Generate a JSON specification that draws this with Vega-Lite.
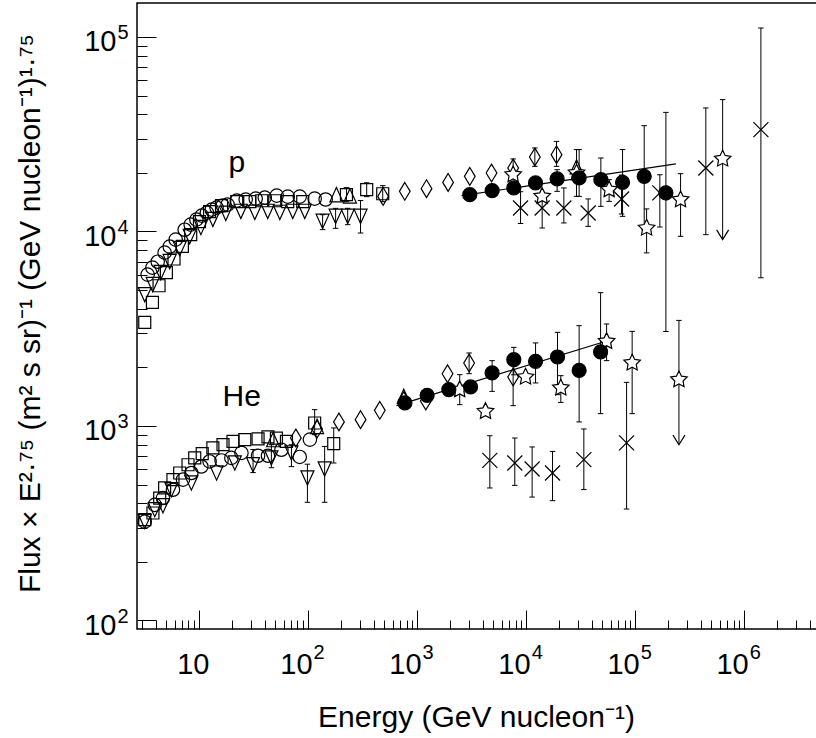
{
  "$schema": "https://vega.github.io/schema/vega-lite/v6.json",
  "width": 680,
  "height": 626,
  "autosize": {"type": "none"},
  "padding": {"left": 137, "top": 3, "right": 0, "bottom": 109},
  "background": "white",
  "config": {
    "font": "Liberation Sans",
    "view": {"stroke": "black", "strokeWidth": 1.5},
    "axis": {"grid": false, "domain": false, "tickColor": "black", "tickWidth": 1, "labelColor": "black", "titleColor": "black", "labelOverlap": false, "labelFlush": false, "labelBound": false}
  },
  "datasets": {
    "pts": [
      {"ion":"p","sym":"circle","E":3.38,"F":6000},{"ion":"p","sym":"circle","E":3.74,"F":6515},{"ion":"p","sym":"circle","E":4.18,"F":6990},{"ion":"p","sym":"circle","E":4.84,"F":7780},{"ion":"p","sym":"circle","E":5.39,"F":8355},{"ion":"p","sym":"circle","E":6.11,"F":9075},{"ion":"p","sym":"circle","E":7.39,"F":10210},{"ion":"p","sym":"circle","E":8.39,"F":10840},{"ion":"p","sym":"circle","E":9.46,"F":11500},{"ion":"p","sym":"circle","E":10.6,"F":12060},{"ion":"p","sym":"circle","E":11.8,"F":12490},{"ion":"p","sym":"circle","E":13.1,"F":12950},{"ion":"p","sym":"circle","E":14.5,"F":13260},{"ion":"p","sym":"circle","E":16.5,"F":13590},{"ion":"p","sym":"circle","E":18.3,"F":13750},{"ion":"p","sym":"circle","E":22.2,"F":14400},{"ion":"p","sym":"circle","E":26.8,"F":14580},{"ion":"p","sym":"circle","E":33.1,"F":14750},{"ion":"p","sym":"circle","E":40.1,"F":14930},{"ion":"p","sym":"circle","E":51.6,"F":15290},{"ion":"p","sym":"circle","E":65.1,"F":15110},{"ion":"p","sym":"circle","E":83.9,"F":15110},{"ion":"p","sym":"circle","E":115,"F":14750},{"ion":"p","sym":"circle","E":145,"F":14600},
      {"ion":"p","sym":"square","E":3.18,"F":3410},{"ion":"p","sym":"square","E":3.74,"F":4315},{"ion":"p","sym":"square","E":4.3,"F":5260},{"ion":"p","sym":"square","E":5.02,"F":6150},{"ion":"p","sym":"square","E":5.9,"F":7220},{"ion":"p","sym":"square","E":7.04,"F":8380},{"ion":"p","sym":"square","E":8.39,"F":9630},{"ion":"p","sym":"square","E":10.1,"F":11230},{"ion":"p","sym":"square","E":12.5,"F":12640},{"ion":"p","sym":"square","E":16.1,"F":13580},{"ion":"p","sym":"square","E":22.2,"F":14230},{"ion":"p","sym":"square","E":29.2,"F":14230},{"ion":"p","sym":"square","E":37.6,"F":14390},{"ion":"p","sym":"square","E":49.5,"F":14390},{"ion":"p","sym":"square","E":65.1,"F":14230},{"ion":"p","sym":"square","E":89.4,"F":14230},{"ion":"p","sym":"square","E":225,"F":15450,"lo":14230,"hi":16800},{"ion":"p","sym":"square","E":345,"F":16400,"lo":15100,"hi":17800},{"ion":"p","sym":"square","E":484,"F":15630,"lo":14230,"hi":17200},
      {"ion":"p","sym":"tdown","E":3.18,"F":4730},{"ion":"p","sym":"tdown","E":3.76,"F":5330},{"ion":"p","sym":"tdown","E":4.45,"F":6150},{"ion":"p","sym":"tdown","E":5.38,"F":7000},{"ion":"p","sym":"tdown","E":6.65,"F":8170},{"ion":"p","sym":"tdown","E":8.22,"F":9410},{"ion":"p","sym":"tdown","E":10.4,"F":10480},{"ion":"p","sym":"tdown","E":13.4,"F":11530},{"ion":"p","sym":"tdown","E":17.6,"F":12390},{"ion":"p","sym":"tdown","E":24.2,"F":12680},{"ion":"p","sym":"tdown","E":32.5,"F":12530},{"ion":"p","sym":"tdown","E":42.7,"F":12680},{"ion":"p","sym":"tdown","E":55.1,"F":12530},{"ion":"p","sym":"tdown","E":72.4,"F":12680},{"ion":"p","sym":"tdown","E":93.3,"F":12680},{"ion":"p","sym":"tdown","E":136,"F":11270,"lo":10220,"hi":12200},{"ion":"p","sym":"tdown","E":179,"F":11970,"lo":10380,"hi":13150},{"ion":"p","sym":"tdown","E":231,"F":11970,"lo":10840,"hi":13150},{"ion":"p","sym":"tdown","E":303,"F":11970,"lo":9820,"hi":14420},
      {"ion":"p","sym":"tup","E":182,"F":15450},{"ion":"p","sym":"tup","E":242,"F":15240},{"ion":"p","sym":"tup","E":29000,"F":21500},
      {"ion":"p","sym":"diamond","E":488,"F":15150},{"ion":"p","sym":"diamond","E":771,"F":16080},{"ion":"p","sym":"diamond","E":1220,"F":16600},{"ion":"p","sym":"diamond","E":1925,"F":17880},{"ion":"p","sym":"diamond","E":3043,"F":19200},{"ion":"p","sym":"diamond","E":4815,"F":19990},{"ion":"p","sym":"diamond","E":7600,"F":21200,"lo":19200,"hi":23600},{"ion":"p","sym":"diamond","E":12020,"F":24150,"lo":21620,"hi":26870},{"ion":"p","sym":"diamond","E":19000,"F":24830,"lo":21620,"hi":29050},
      {"ion":"p","sym":"cross","E":8890,"F":13210,"lo":10990,"hi":16010},{"ion":"p","sym":"cross","E":14030,"F":13210,"lo":10420,"hi":15150},{"ion":"p","sym":"cross","E":22180,"F":13210,"lo":11060,"hi":16740},{"ion":"p","sym":"cross","E":37050,"F":12450,"lo":10620,"hi":14700},{"ion":"p","sym":"cross","E":75000,"F":14690,"lo":12300,"hi":19500},{"ion":"p","sym":"cross","E":168300,"F":15800,"lo":10540,"hi":19570},{"ion":"p","sym":"cross","E":444600,"F":21210,"lo":9630,"hi":43150},{"ion":"p","sym":"cross","E":1422000,"F":33380,"lo":5780,"hi":111200},
      {"ion":"p","sym":"star","E":7600,"F":19590},{"ion":"p","sym":"star","E":14030,"F":15150},{"ion":"p","sym":"star","E":28980,"F":20000,"lo":15150,"hi":26370},{"ion":"p","sym":"star","E":57700,"F":16410,"lo":14280,"hi":18470},{"ion":"p","sym":"star","E":127300,"F":10420,"lo":7760,"hi":13060},{"ion":"p","sym":"star","E":260800,"F":14570,"lo":9440,"hi":19820},{"ion":"p","sym":"star","E":634000,"F":23590,"lo":9090,"hi":47640,"ul":true},
      {"ion":"p","sym":"filled","E":3043,"F":15460},{"ion":"p","sym":"filled","E":4880,"F":16220},{"ion":"p","sym":"filled","E":7710,"F":16740},{"ion":"p","sym":"filled","E":12190,"F":17760},{"ion":"p","sym":"filled","E":19240,"F":18620,"lo":16080,"hi":20780},{"ion":"p","sym":"filled","E":30620,"F":18840,"lo":15150,"hi":26370},{"ion":"p","sym":"filled","E":48450,"F":18470,"lo":13460,"hi":23870},{"ion":"p","sym":"filled","E":76600,"F":17880,"lo":11960,"hi":26370},{"ion":"p","sym":"filled","E":121000,"F":19200,"lo":10220,"hi":34990},{"ion":"p","sym":"filled","E":191300,"F":15780,"lo":3060,"hi":40950},
      {"ion":"He","sym":"square","E":3.18,"F":330},{"ion":"He","sym":"square","E":3.78,"F":357},{"ion":"He","sym":"square","E":4.36,"F":426},{"ion":"He","sym":"square","E":4.84,"F":480},{"ion":"He","sym":"square","E":5.77,"F":530},{"ion":"He","sym":"square","E":6.65,"F":573},{"ion":"He","sym":"square","E":7.93,"F":632},{"ion":"He","sym":"square","E":9.14,"F":685},{"ion":"He","sym":"square","E":10.7,"F":720},{"ion":"He","sym":"square","E":13.4,"F":771},{"ion":"He","sym":"square","E":16.6,"F":801},{"ion":"He","sym":"square","E":20.5,"F":834},{"ion":"He","sym":"square","E":26.3,"F":851},{"ion":"He","sym":"square","E":34.8,"F":858},{"ion":"He","sym":"square","E":42.9,"F":878},{"ion":"He","sym":"square","E":51.3,"F":867},{"ion":"He","sym":"square","E":63.4,"F":834},{"ion":"He","sym":"square","E":115,"F":1036,"lo":902,"hi":1213},{"ion":"He","sym":"square","E":172,"F":811,"lo":645,"hi":977},
      {"ion":"He","sym":"circle","E":3.18,"F":322},{"ion":"He","sym":"circle","E":3.93,"F":393},{"ion":"He","sym":"circle","E":4.67,"F":426},{"ion":"He","sym":"circle","E":5.77,"F":470},{"ion":"He","sym":"circle","E":7.13,"F":530},{"ion":"He","sym":"circle","E":8.51,"F":573},{"ion":"He","sym":"circle","E":10.5,"F":619},{"ion":"He","sym":"circle","E":12.5,"F":657},{"ion":"He","sym":"circle","E":16.1,"F":665},{"ion":"He","sym":"circle","E":19.8,"F":685},{"ion":"He","sym":"circle","E":24.5,"F":727},{"ion":"He","sym":"circle","E":34.8,"F":703},{"ion":"He","sym":"circle","E":42.9,"F":703},{"ion":"He","sym":"circle","E":57,"F":755},{"ion":"He","sym":"circle","E":83.9,"F":693},{"ion":"He","sym":"circle","E":104,"F":851},
      {"ion":"He","sym":"tdown","E":3.18,"F":323},{"ion":"He","sym":"tdown","E":3.93,"F":371},{"ion":"He","sym":"tdown","E":4.67,"F":389},{"ion":"He","sym":"tdown","E":5.58,"F":470},{"ion":"He","sym":"tdown","E":8.51,"F":509},{"ion":"He","sym":"tdown","E":14.5,"F":573},{"ion":"He","sym":"tdown","E":21.3,"F":645},{"ion":"He","sym":"tdown","E":31.3,"F":632,"lo":576,"hi":757},{"ion":"He","sym":"tdown","E":46.1,"F":685,"lo":610,"hi":801},{"ion":"He","sym":"tdown","E":70.4,"F":727,"lo":618,"hi":801},{"ion":"He","sym":"tdown","E":98.7,"F":540,"lo":405,"hi":636},{"ion":"He","sym":"tdown","E":142,"F":601,"lo":405,"hi":785},
      {"ion":"He","sym":"tup","E":47.8,"F":851},{"ion":"He","sym":"tup","E":121,"F":995},{"ion":"He","sym":"tup","E":755,"F":1420},
      {"ion":"He","sym":"diamond","E":77.3,"F":868},{"ion":"He","sym":"diamond","E":121,"F":965},{"ion":"He","sym":"diamond","E":192,"F":1049},{"ion":"He","sym":"diamond","E":303,"F":1078},{"ion":"He","sym":"diamond","E":455,"F":1203},{"ion":"He","sym":"diamond","E":755,"F":1349},{"ion":"He","sym":"diamond","E":1202,"F":1344},{"ion":"He","sym":"diamond","E":1901,"F":1857},{"ion":"He","sym":"diamond","E":3000,"F":2109,"lo":1857,"hi":2373},{"ion":"He","sym":"diamond","E":7600,"F":1786,"lo":1272,"hi":2109},
      {"ion":"He","sym":"cross","E":4645,"F":666,"lo":480,"hi":891},{"ion":"He","sym":"cross","E":7870,"F":645,"lo":495,"hi":867},{"ion":"He","sym":"cross","E":11350,"F":601,"lo":431,"hi":780},{"ion":"He","sym":"cross","E":17460,"F":573,"lo":413,"hi":740},{"ion":"He","sym":"cross","E":33820,"F":671,"lo":471,"hi":965},{"ion":"He","sym":"cross","E":83400,"F":818,"lo":374,"hi":1676},
      {"ion":"He","sym":"star","E":2460,"F":1538,"lo":1287,"hi":1836},{"ion":"He","sym":"star","E":4240,"F":1189},{"ion":"He","sym":"star","E":9880,"F":1786},{"ion":"He","sym":"star","E":20800,"F":1569,"lo":1322,"hi":1814},{"ion":"He","sym":"star","E":54700,"F":2723,"lo":2167,"hi":3345},{"ion":"He","sym":"star","E":93800,"F":2109,"lo":1157,"hi":3065},{"ion":"He","sym":"star","E":252000,"F":1730,"lo":801,"hi":3490,"ul":true},
      {"ion":"He","sym":"filled","E":773,"F":1313},{"ion":"He","sym":"filled","E":1236,"F":1437},{"ion":"He","sym":"filled","E":1954,"F":1538},{"ion":"He","sym":"filled","E":3092,"F":1587},{"ion":"He","sym":"filled","E":4876,"F":1873,"lo":1506,"hi":2167},{"ion":"He","sym":"filled","E":7710,"F":2192,"lo":1833,"hi":2536},{"ion":"He","sym":"filled","E":12200,"F":2149,"lo":1664,"hi":2672},{"ion":"He","sym":"filled","E":19400,"F":2263,"lo":1449,"hi":3029},{"ion":"He","sym":"filled","E":30620,"F":1931,"lo":1049,"hi":3279},{"ion":"He","sym":"filled","E":48170,"F":2402,"lo":1157,"hi":4846}
    ],
    "fit": [
      {"ion":"p","E":2555,"F":15280},{"ion":"p","E":236000,"F":22240},
      {"ion":"He","E":647,"F":1272},{"ion":"He","E":62800,"F":2801}
    ],
    "lab": [
      {"t":"p","E":22.2,"F":22590},
      {"t":"He","E":24.6,"F":1406}
    ]
  },
  "resolve": {"axis": {"x": "independent", "y": "independent"}},
  "layer": [
    {
      "data": {"name": "pts"},
      "transform": [{"filter": "isValid(datum.lo)"}],
      "mark": {"type": "rule", "color": "black", "strokeWidth": 1},
      "encoding": {
        "x": {"field": "E", "type": "quantitative", "scale": {"type": "log", "domain": [2.7, 4650000], "nice": false},
              "axis": {"orient": "bottom", "values": [10,100,1000,10000,100000,1000000], "tickSize": -19, "labels": false, "title": null}},
        "y": {"field": "lo", "type": "quantitative", "scale": {"type": "log", "domain": [90.4, 149500], "nice": false},
              "axis": {"orient": "left", "values": [100,1000,10000,100000], "tickSize": -19, "labels": false, "title": null}},
        "y2": {"field": "hi"}
      }
    },
    {
      "data": {"name": "pts"},
      "transform": [
        {"filter": "isValid(datum.lo)"},
        {"fold": ["lo", "hi"], "as": ["end", "yv"]},
        {"filter": "datum.end == 'hi' || !datum.ul"}
      ],
      "mark": {"type": "point", "shape": "M-1,0L1,0", "size": 30, "stroke": "black", "strokeWidth": 1, "fill": "transparent", "opacity": 1},
      "encoding": {
        "x": {"field": "E", "type": "quantitative", "scale": {"type": "log", "domain": [2.7, 4650000], "nice": false},
              "axis": {"orient": "bottom", "values": [3,4,5,6,7,8,9,20,30,40,50,60,70,80,90,200,300,400,500,600,700,800,900,2000,3000,4000,5000,6000,7000,8000,9000,20000,30000,40000,50000,60000,70000,80000,90000,200000,300000,400000,500000,600000,700000,800000,900000,2000000,3000000,4000000], "tickSize": -9, "labels": false, "title": null}},
        "y": {"field": "yv", "type": "quantitative", "scale": {"type": "log", "domain": [90.4, 149500], "nice": false},
              "axis": {"orient": "left", "values": [200,300,400,500,600,700,800,900,2000,3000,4000,5000,6000,7000,8000,9000,20000,30000,40000,50000,60000,70000,80000,90000], "tickSize": -10, "labels": false, "title": null}}
      }
    },
    {
      "data": {"name": "fit"},
      "mark": {"type": "line", "color": "black", "strokeWidth": 1.2},
      "encoding": {
        "x": {"field": "E", "type": "quantitative", "scale": {"type": "log", "domain": [2.7, 4650000], "nice": false},
              "axis": {"orient": "bottom", "values": [10,100,1000,10000,100000,1000000], "ticks": false, "labelExpr": "'10'", "labelFontSize": 29, "labelAlign": "right", "labelBaseline": "top", "labelPadding": 21,
                       "labelOffset": {"condition": {"test": "datum.value < 50", "value": 10}, "value": 4},
                       "title": "Energy (GeV nucleon⁻¹)", "titleFontSize": 30, "titleFontWeight": "normal", "titleX": 339, "titleY": 88, "titleBaseline": "middle"}},
        "y": {"field": "F", "type": "quantitative", "scale": {"type": "log", "domain": [90.4, 149500], "nice": false},
              "axis": {"orient": "left", "values": [100,1000,10000,100000], "ticks": false, "labelExpr": "'10'", "labelFontSize": 29, "labelAlign": "right", "labelBaseline": "middle", "labelPadding": 21, "labelOffset": 5,
                       "title": "Flux × E²·⁷⁵ (m² s sr)⁻¹ (GeV nucleon⁻¹)¹·⁷⁵", "titleFontSize": 30, "titleFontWeight": "normal", "titleX": -107, "titleY": 310, "titleAngle": -90, "titleBaseline": "middle", "titleAlign": "center"}},
        "detail": {"field": "ion", "type": "nominal"}
      }
    },
    {
      "data": {"name": "lab"},
      "mark": {"type": "text", "fontSize": 30, "align": "center", "baseline": "middle", "color": "black"},
      "encoding": {
        "x": {"field": "E", "type": "quantitative", "scale": {"type": "log", "domain": [2.7, 4650000], "nice": false},
              "axis": {"orient": "bottom", "values": [100,1000,10000,100000,1000000], "ticks": false, "labelExpr": "format(log(datum.value)/LN10, '.0f')", "labelFontSize": 20, "labelAlign": "left", "labelBaseline": "top", "labelPadding": 13, "labelOffset": 5, "title": null}},
        "y": {"field": "F", "type": "quantitative", "scale": {"type": "log", "domain": [90.4, 149500], "nice": false},
              "axis": {"orient": "left", "values": [100,1000,10000,100000], "ticks": false, "labelExpr": "format(log(datum.value)/LN10, '.0f')", "labelFontSize": 20, "labelAlign": "left", "labelBaseline": "middle", "labelPadding": 20, "labelOffset": -4, "title": null}},
        "text": {"field": "t", "type": "nominal"}
      }
    },
    {
      "data": {"name": "pts"},
      "transform": [{"filter": "datum.ul == true"}],
      "mark": {"type": "point", "shape": "M-1,-1.6L0,0L1,-1.6", "size": 144, "stroke": "black", "strokeWidth": 1.2, "fill": "transparent", "opacity": 1},
      "encoding": {
        "x": {"field": "E", "type": "quantitative", "scale": {"type": "log", "domain": [2.7, 4650000], "nice": false}, "axis": null},
        "y": {"field": "lo", "type": "quantitative", "scale": {"type": "log", "domain": [90.4, 149500], "nice": false}, "axis": null}
      }
    },
    {
      "data": {"name": "pts"},
      "mark": {"type": "point", "stroke": "black", "strokeWidth": 1.2, "opacity": 1},
      "encoding": {
        "x": {"field": "E", "type": "quantitative", "scale": {"type": "log", "domain": [2.7, 4650000], "nice": false}, "axis": null},
        "y": {"field": "F", "type": "quantitative", "scale": {"type": "log", "domain": [90.4, 149500], "nice": false}, "axis": null},
        "shape": {"field": "sym", "type": "nominal", "legend": null,
                  "scale": {"type": "ordinal", "domain": ["circle","square","tdown","tup","diamond","filled","cross","star"],
                            "range": ["circle","square","M-1,-1.1L1,-1.1L0,1.1Z","M-1,1.1L1,1.1L0,-1.1Z","M0,-1.4L0.85,0L0,1.4L-0.85,0Z","circle","M-1,-1L1,1M-1,1L1,-1","M0,-1L0.294,-0.405L0.951,-0.309L0.476,0.155L0.588,0.809L0,0.5L-0.588,0.809L-0.476,0.155L-0.951,-0.309L-0.294,-0.405Z"]}},
        "size": {"field": "sym", "type": "nominal", "legend": null,
                 "scale": {"type": "ordinal", "domain": ["circle","square","tdown","tup","diamond","filled","cross","star"], "range": [180,144,169,169,160,196,225,300]}},
        "fill": {"field": "sym", "type": "nominal", "legend": null,
                 "scale": {"type": "ordinal", "domain": ["circle","square","tdown","tup","diamond","filled","cross","star"], "range": ["transparent","transparent","transparent","transparent","transparent","black","transparent","white"]}}
      }
    }
  ]
}
